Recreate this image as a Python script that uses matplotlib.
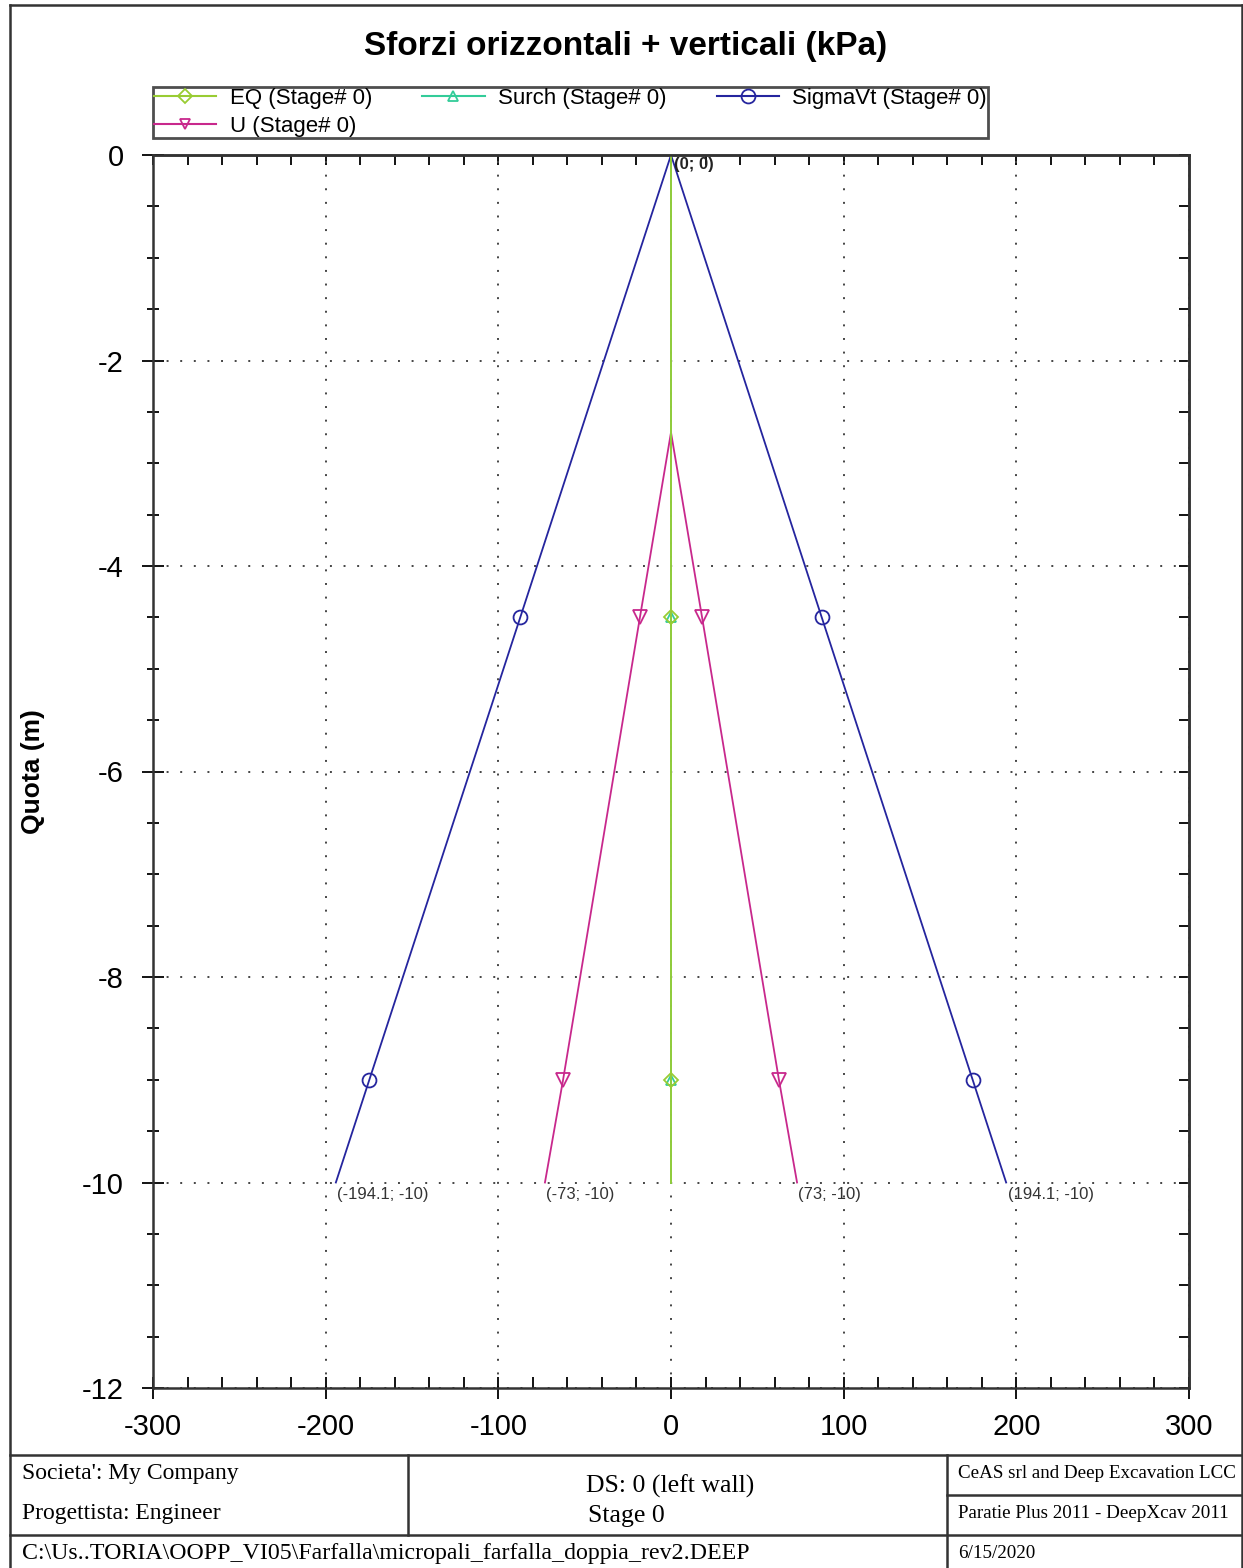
import matplotlib.pyplot as plt
from matplotlib.lines import Line2D
from matplotlib.ticker import MultipleLocator

plt.rcParams['font.family'] = ['Liberation Sans', 'DejaVu Sans']
plt.rcParams['axes.unicode_minus'] = False

# quota (m) of the nodes
depth = [0, -2.7, -4.5, -9, -10]
sigmavt = [0, 52.4, 87.3, 174.7, 194.1]
u_depth = [-2.7, -4.5, -9, -10]
u_vals = [0, 18.0, 62.5, 73.0]
eq_vals = [0, 0, 0, 0, 0]
surch_vals = [0, 0, 0, 0, 0]

labels = ['EQ (Stage# 0)', 'U (Stage# 0)', 'Surch (Stage# 0)', 'SigmaVt (Stage# 0)']
annotations = [(0, 0, '(0; 0)'), (-194.1, -10, '(-194.1; -10)'), (-73, -10, '(-73; -10)'),
               (73, -10, '(73; -10)'), (194.1, -10, '(194.1; -10)')]

c_eq = '#99cc33'
c_surch = '#33cc99'
c_sig = '#25259e'
c_u = '#c8288c'

W, H = 1243, 1568
fig = plt.figure(figsize=(W / 100, H / 100), dpi=100)


def fx(px):
    return px / W


def fy(py):
    return 1 - py / H


ax = fig.add_axes([fx(153), fy(1388), fx(1189) - fx(153), fy(155) - fy(1388)])

mk = dict(markersize=10, markerfacecolor='none', markeredgewidth=1.3)
mk_small = dict(markersize=7, markerfacecolor='none', markeredgewidth=1.3)
sig_mark = [2, 3]
u_mark = [1, 2]
ax.plot(sigmavt, depth, color=c_sig, lw=1.3, marker='o', markevery=sig_mark, **mk)
ax.plot([-v for v in sigmavt], depth, color=c_sig, lw=1.3, marker='o', markevery=sig_mark, **mk)
ax.plot(u_vals, u_depth, color=c_u, lw=1.3, marker='v', markevery=u_mark, **mk)
ax.plot([-v for v in u_vals], u_depth, color=c_u, lw=1.3, marker='v', markevery=u_mark, **mk)
ax.plot(surch_vals, depth, color=c_surch, lw=1.3, marker='^', markevery=sig_mark, **mk_small)
ax.plot(eq_vals, depth, color=c_eq, lw=1.3, marker='D', markevery=sig_mark, **mk_small)

for x, y, t in annotations:
    if t == '(0; 0)':
        ax.annotate(t, (x, y), xytext=(2, -10), textcoords='offset points',
                    fontsize=12, fontweight='bold', color='#222222')
    else:
        ax.annotate(t, (x, y), xytext=(1, -12), textcoords='offset points',
                    fontsize=12, color='#333333')

ax.set_xlim(-300, 300)
ax.set_ylim(-12, 0)
ax.xaxis.set_major_locator(MultipleLocator(100))
ax.xaxis.set_minor_locator(MultipleLocator(20))
ax.yaxis.set_major_locator(MultipleLocator(2))
ax.yaxis.set_minor_locator(MultipleLocator(0.5))
ax.tick_params(which='major', direction='inout', length=16, width=1.3, labelsize=21)
ax.tick_params(axis='x', which='major', pad=10)
ax.tick_params(axis='y', which='major', pad=13)
ax.tick_params(axis='x', which='minor', direction='in', length=8, width=1.3)
ax.tick_params(axis='y', which='minor', direction='inout', length=8, width=1.3)

# top and right: inward ticks only, no labels
top = ax.secondary_xaxis('top')
top.xaxis.set_major_locator(MultipleLocator(100))
top.xaxis.set_minor_locator(MultipleLocator(20))
top.tick_params(which='both', direction='in', length=7, width=1.3, labeltop=False)
right = ax.secondary_yaxis('right')
right.yaxis.set_major_locator(MultipleLocator(2))
right.yaxis.set_minor_locator(MultipleLocator(0.5))
right.tick_params(which='both', direction='in', length=7, width=1.3, labelright=False)

ax.grid(which='major', linestyle=(0, (1, 6)), color='#444444', lw=1.4)
for a in (ax, top, right):
    for s in a.spines.values():
        s.set_linewidth(1.8)
        s.set_color('#333333')

ax.set_ylabel('Quota (m)', fontsize=19, fontweight='bold')
ax.yaxis.set_label_coords((45 - 153) / 1036, 0.5)

fig.text(fx(626), fy(47), 'Sforzi orizzontali + verticali (kPa)', fontsize=24,
         fontweight='bold', ha='center', va='center')

handles = [
    Line2D([], [], color=c_eq, marker='D', **mk_small),
    Line2D([], [], color=c_u, marker='v', **mk_small),
    Line2D([], [], color=c_surch, marker='^', **mk_small),
    Line2D([], [], color=c_sig, marker='o', **mk),
]
leg = fig.legend(handles, labels, ncol=3, loc='upper left',
                 bbox_to_anchor=(fx(153), fy(140), fx(988) - fx(153), fy(87) - fy(140)),
                 mode='expand', fontsize=16, frameon=True, fancybox=False,
                 borderpad=0.05, handlelength=2.8, handletextpad=0.6, labelspacing=0.3,
                 columnspacing=2, borderaxespad=0)
leg.get_frame().set_edgecolor('#222222')
leg.get_frame().set_linewidth(2)

# page frame and footer table
lc = '#333333'


def hline(y, x0, x1):
    fig.add_artist(Line2D([fx(x0), fx(x1)], [fy(y), fy(y)], color=lc, lw=1.8,
                          transform=fig.transFigure))


def vline(x, y0, y1):
    fig.add_artist(Line2D([fx(x), fx(x)], [fy(y0), fy(y1)], color=lc, lw=1.8,
                          transform=fig.transFigure))


vline(10, 5, 1568)
vline(1242, 5, 1568)
hline(5, 10, 1242)
hline(1455, 10, 1242)
hline(1535, 10, 1242)
hline(1495, 947, 1242)
vline(408, 1455, 1535)
vline(947, 1455, 1568)

serif = ['Liberation Serif', 'DejaVu Serif']
fig.text(fx(22), fy(1474), "Societa': My Company", fontsize=17, family=serif, va='center')
fig.text(fx(22), fy(1514), 'Progettista: Engineer', fontsize=17, family=serif, va='center')
fig.text(fx(670), fy(1486), 'DS: 0 (left wall)', fontsize=18.5, family=serif,
         va='center', ha='center')
fig.text(fx(626), fy(1516), 'Stage 0', fontsize=18.5, family=serif, va='center', ha='center')
fig.text(fx(958), fy(1474), 'CeAS srl and Deep Excavation LCC', fontsize=13.7, family=serif,
         va='center')
fig.text(fx(958), fy(1514), 'Paratie Plus 2011 - DeepXcav 2011', fontsize=13.7, family=serif,
         va='center')
fig.text(fx(958), fy(1553), '6/15/2020', fontsize=13.7, family=serif, va='center')
fig.text(fx(22), fy(1553), 'C:\\Us..TORIA\\OOPP_VI05\\Farfalla\\micropali_farfalla_doppia_rev2.DEEP',
         fontsize=17.2, family=serif, va='center')

fig.savefig('out.png', dpi=100)
